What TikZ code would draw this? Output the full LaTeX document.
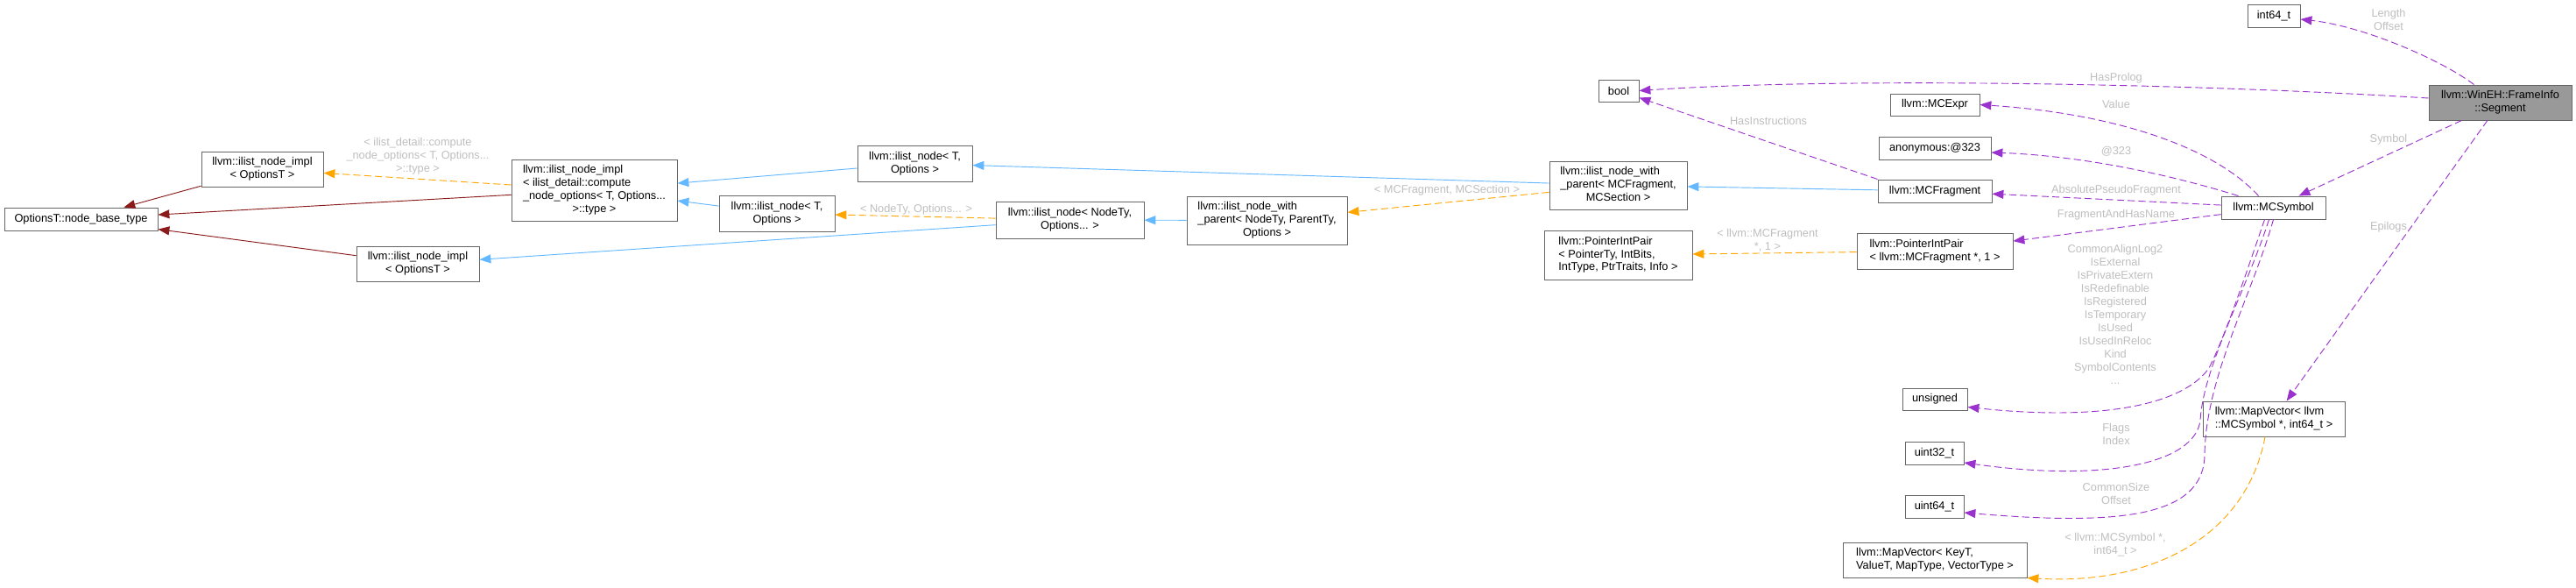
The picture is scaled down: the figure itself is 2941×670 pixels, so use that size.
\documentclass[tikz,border=0pt]{standalone}
\usepackage{fontspec}
\setmainfont{Liberation Sans}
\usetikzlibrary{arrows.meta,calc}

\definecolor{boxgray}{HTML}{666666}
\definecolor{rootgray}{HTML}{999999}
\definecolor{lblgray}{HTML}{BEBEBE}
\definecolor{edgered}{HTML}{8B1A1A}
\definecolor{edgeblue}{HTML}{63B8FF}
\definecolor{edgeorange}{HTML}{FFA500}
\definecolor{edgepurple}{HTML}{9A32CD}

% left aligned lines, last line centred
\newcommand{\boxlines}[2]{\begin{tabular}{@{}l@{}}#1\\\multicolumn{1}{@{}c@{}}{#2}\end{tabular}}

\begin{document}
\begin{tikzpicture}[x=0.03cm,y=-0.03cm,
    font=\fontsize{10.9}{12.8}\selectfont,
    cls/.style 2 args={draw=boxgray,fill=white,line width=0.8pt,inner sep=0pt,align=center,
      minimum width=#1*0.03cm,minimum height=#2*0.03cm},
    root/.style={fill=rootgray},
    lbl/.style={text=lblgray,align=center,inner sep=0pt},
    tip/.style={-{Triangle[length=11pt,width=8.5pt]},line width=0.8pt},
    inh/.style={tip,color=edgered},
    pub/.style={tip,color=edgeblue},
    tpl/.style={tip,color=edgeorange,dash pattern=on 7pt off 3.5pt},
    mem/.style={tip,color=edgepurple,dash pattern=on 7pt off 3.5pt}]
    \useasboundingbox (0,0) rectangle (2941,670);

    % classes
    \node[cls={175}{26}] (nbt) at (92.5,250) {OptionsT::node\_base\_type};
    \node[cls={139}{40}] (impltop) at (299.5,193) {llvm::ilist\_node\_impl\\< OptionsT >};
    \node[cls={140}{40}] (implbot) at (477,301) {llvm::ilist\_node\_impl\\< OptionsT >};
    \node[cls={189}{70}] (implbig) at (678.5,217)
      {\boxlines{llvm::ilist\_node\_impl\\< ilist\_detail::compute\\\_node\_options< T, Options...}{>::type >}};
    \node[cls={131}{41}] (nodetop) at (1044.5,186.5) {llvm::ilist\_node< T,\\Options >};
    \node[cls={132}{41}] (nodemid) at (887,243.5) {llvm::ilist\_node< T,\\Options >};
    \node[cls={169}{42}] (nodenty) at (1221.5,251) {llvm::ilist\_node< NodeTy,\\Options... >};
    \node[cls={183}{55}] (wpnty) at (1446.5,251.5)
      {\boxlines{llvm::ilist\_node\_with\\\_parent< NodeTy, ParentTy,}{Options >}};
    \node[cls={157}{55}] (wpfrag) at (1847.5,211.5)
      {\boxlines{llvm::ilist\_node\_with\\\_parent< MCFragment,}{MCSection >}};
    \node[cls={169}{56}] (pipgen) at (1847.5,291)
      {\boxlines{llvm::PointerIntPair\\< PointerTy, IntBits,}{IntType, PtrTraits, Info >}};
    \node[cls={46}{25}] (bool) at (1848,103.5) {bool};
    \node[cls={102}{25}] (mcexpr) at (2209,119.5) {llvm::MCExpr};
    \node[cls={128}{26}] (anon) at (2209,169) {anonymous:@323};
    \node[cls={130}{26}] (mcfrag) at (2209,218) {llvm::MCFragment};
    \node[cls={178}{41}] (pipfrag) at (2209,286.5) {\boxlines{llvm::PointerIntPair}{< llvm::MCFragment *, 1 >}};
    \node[cls={74}{25}] (unsgn) at (2209,455.5) {unsigned};
    \node[cls={67}{26}] (u32) at (2208.5,517) {uint32\_t};
    \node[cls={67}{26}] (u64) at (2208.5,578) {uint64\_t};
    \node[cls={210}{40}] (mvgen) at (2209,639) {\boxlines{llvm::MapVector< KeyT,}{ValueT, MapType, VectorType >}};
    \node[cls={60}{26}] (i64) at (2596,18) {int64\_t};
    \node[cls={163}{40},root] (seg) at (2854.5,117) {\boxlines{llvm::WinEH::FrameInfo}{::Segment}};
    \node[cls={119}{26}] (mcsym) at (2595.5,237) {llvm::MCSymbol};
    \node[cls={162}{40}] (mvsym) at (2596,478) {\boxlines{llvm::MapVector< llvm}{::MCSymbol *, int64\_t >}};

    % labels
    \node[lbl] (ldetail) at (477,178) {< ilist\_detail::compute\\\_node\_options< T, Options...\\>::type >};
    \node[lbl] (lnodety) at (1046,239) {< NodeTy, Options... >};
    \node[lbl] (lmcsec) at (1652,217) {< MCFragment, MCSection >};
    \node[lbl] (lhasins) at (2019,138) {HasInstructions};
    \node[lbl] (lpipfrag) at (2018,274.5) {< llvm::MCFragment\\*, 1 >};
    \node[lbl] (lprolog) at (2416,89) {HasProlog};
    \node[lbl] (llength) at (2727,22) {Length\\Offset};
    \node[lbl] (lvalue) at (2416,119) {Value};
    \node[lbl] (lanon) at (2416,173) {@323};
    \node[lbl] (labs) at (2416,217) {AbsolutePseudoFragment};
    \node[lbl] (lfrag) at (2416,245) {FragmentAndHasName};
    \node[lbl] (lsym) at (2727,159) {Symbol};
    \node[lbl] (lepi) at (2727,259) {Epilogs};
    \node[lbl] (lflags) at (2415,359) {CommonAlignLog2\\IsExternal\\IsPrivateExtern\\IsRedefinable\\IsRegistered\\IsTemporary\\IsUsed\\IsUsedInReloc\\Kind\\SymbolContents\\...};
    \node[lbl] (lindex) at (2416,495) {Flags\\Index};
    \node[lbl] (lsize) at (2416,563) {CommonSize\\Offset};
    \node[lbl] (lmvsym) at (2415,622) {< llvm::MCSymbol *,\\int64\_t >};

    % inheritance
    \draw[inh] (impltop) -- (nbt);
    \draw[inh] (implbig) -- (nbt);
    \draw[inh] (implbot) -- (nbt);
    \draw[pub] (nodetop) -- (implbig);
    \draw[pub] (nodemid) -- (implbig);
    \draw[pub] (nodenty) -- (implbot);
    \draw[pub] (wpnty) -- (nodenty);
    \draw[pub] (wpfrag) -- (nodetop);
    \draw[pub] (mcfrag) -- (wpfrag);

    % template instances
    \draw[tpl] (implbig) -- (impltop);
    \draw[tpl] (nodenty) -- (nodemid);
    \draw[tpl] (wpfrag) -- (wpnty);
    \draw[tpl] (pipfrag) -- (pipgen);
    \draw[tpl] ($(mvsym.south)+(-10,0)$) .. controls (2565,610) and (2460,668) .. (mvgen.south east);

    % members
    \draw[mem] ($(seg.north)+(-30,0)$) .. controls (2790,70) and (2700,30) .. ($(i64.east)+(0,4)$);
    \draw[mem] ($(seg.west)+(0,-5)$) .. controls (2500,95) and (2100,88) .. (bool.east);
    \draw[mem] (mcfrag.north west) -- (bool);
    \draw[mem] ($(mcsym.north)+(-17,0)$) .. controls (2530,170) and (2420,130) .. (mcexpr.east);
    \draw[mem] ($(mcsym.north)+(-40,0)$) .. controls (2480,200) and (2380,178) .. ($(anon.east)+(0,5)$);
    \draw[mem] (mcsym) -- (mcfrag);
    \draw[mem] (mcsym) -- (pipfrag);
    \draw[mem] (seg) -- (mcsym);
    \draw[mem] (seg) -- (mvsym);
    \draw[mem] ($(mcsym.south)+(-10,0)$) .. controls (2565,310) and (2540,385) .. (2522,420)
      .. controls (2490,465) and (2390,480) .. ($(unsgn.east)+(0,9)$);
    \draw[mem] ($(mcsym.south)+(-5,0)$) .. controls (2565,330) and (2515,420) .. (2512,480)
      .. controls (2505,530) and (2400,550) .. ($(u32.east)+(0,11)$);
    \draw[mem] (mcsym.south) .. controls (2570,340) and (2518,430) .. (2517,520)
      .. controls (2515,590) and (2420,600) .. ($(u64.east)+(0,7)$);
\end{tikzpicture}
\end{document}
